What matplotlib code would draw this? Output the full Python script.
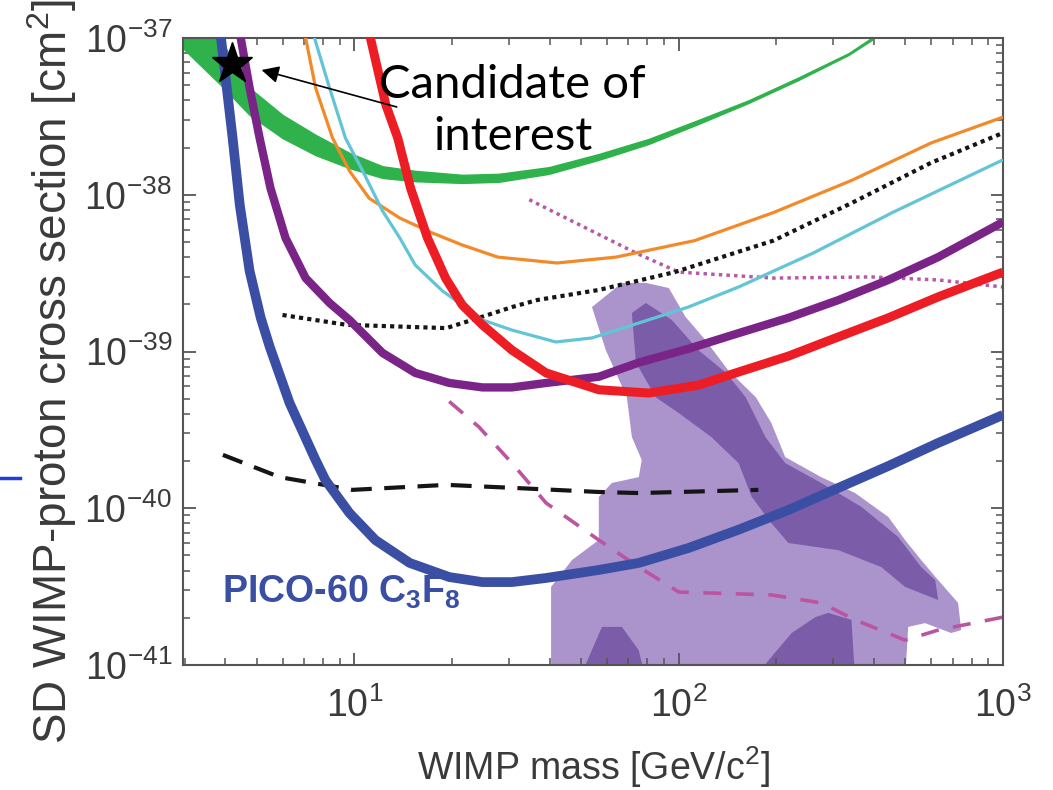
import matplotlib
matplotlib.use('Agg')
import matplotlib.pyplot as plt
from matplotlib import font_manager
from matplotlib.lines import Line2D
from matplotlib.ticker import NullFormatter

names = set(f.name for f in font_manager.fontManager.ttflist)
has_narrow = 'Liberation Sans Narrow' in names
narrow = 'Liberation Sans Narrow' if has_narrow else 'Liberation Sans'

plt.rcParams['font.family'] = ['Liberation Sans', 'DejaVu Sans']
plt.rcParams['mathtext.fontset'] = 'custom'
plt.rcParams['mathtext.rm'] = 'Liberation Sans'
plt.rcParams['mathtext.bf'] = 'Liberation Sans:bold'
plt.rcParams['mathtext.it'] = 'Liberation Sans:italic'

# ---- data (WIMP mass in GeV, cross section in cm^2) ----
green_m = [2.96, 3.84, 4.75, 6.0, 7.59, 9.65, 12.2, 15.4, 21.5, 27.9, 39.8, 56.7, 80.8, 115, 164, 234, 334, 398]
green_hi = [2.02e-37, 1.0e-37, 4.8e-38, 3.23e-38, 2.41e-38, 1.85e-38, 1.52e-38, 1.42e-38, 1.34e-38, 1.36e-38,
            1.50e-38, 1.82e-38, 2.27e-38, 3.0e-38, 4.0e-38, 5.6e-38, 8.0e-38, 1.02e-37]
green_lo = [8.6e-38, 5.1e-38, 3.23e-38, 2.30e-38, 1.79e-38, 1.48e-38, 1.28e-38, 1.22e-38, 1.19e-38, 1.21e-38,
            1.36e-38, 1.67e-38, 2.11e-38, 2.83e-38, 3.85e-38, 5.4e-38, 7.8e-38, 9.85e-38]

pico_m = [3.82, 4.21, 4.43, 4.75, 5.14, 5.48, 6.31, 7.59, 8.14, 9.65, 11.6, 14.8, 19.6, 24.8, 30.6, 39.0,
          56.7, 75.3, 107, 153, 218, 311, 443, 631, 1000]
pico_s = [1.30e-37, 2.30e-38, 8.6e-39, 3.26e-39, 1.64e-39, 1.07e-39, 4.69e-40, 2.03e-40, 1.51e-40, 9.33e-41,
          6.27e-41, 4.48e-41, 3.64e-41, 3.38e-41, 3.38e-41, 3.59e-41, 4.04e-41, 4.48e-41, 5.57e-41, 7.3e-41,
          9.75e-41, 1.35e-40, 1.86e-40, 2.61e-40, 3.94e-40]

purple_m = [4.37, 4.46, 4.75, 5.10, 5.51, 6.13, 7.07, 8.38, 9.65, 12.2, 15.4, 19.6, 24.8, 30.6, 39.0, 56.7,
            75.3, 107, 153, 218, 311, 443, 631, 1000]
purple_s = [1.30e-37, 1.0e-37, 4.8e-38, 2.30e-38, 1.10e-38, 5.3e-39, 2.94e-39, 2.04e-39, 1.59e-39, 9.8e-40,
            7.3e-40, 6.3e-40, 5.9e-40, 5.9e-40, 6.3e-40, 6.9e-40, 8.5e-40, 1.04e-39, 1.31e-39, 1.64e-39,
            2.13e-39, 2.86e-39, 4.0e-39, 6.7e-39]

red_m = [11.0, 11.2, 12.5, 13.6, 14.9, 16.8, 19.1, 21.5, 24.8, 30.6, 39.0, 56.7, 80.8, 115, 153, 218, 311,
         443, 631, 1000]
red_s = [1.30e-37, 1.0e-37, 3.74e-38, 2.30e-38, 1.10e-38, 5.3e-39, 2.94e-39, 1.98e-39, 1.48e-39, 1.02e-39,
         7.3e-40, 5.7e-40, 5.43e-40, 6.1e-40, 7.4e-40, 9.35e-40, 1.24e-39, 1.64e-39, 2.23e-39, 3.21e-39]

orange_m = [6.92, 7.07, 7.59, 8.56, 9.65, 11.1, 13.8, 17.4, 21.5, 27.7, 42.1, 64.0, 112, 196, 343, 600, 1000]
orange_s = [1.21e-37, 1.0e-37, 4.8e-38, 2.30e-38, 1.42e-38, 9.5e-39, 7.1e-39, 5.7e-39, 4.78e-39, 4.0e-39,
            3.67e-39, 4.0e-39, 5.1e-39, 7.7e-39, 1.24e-38, 2.14e-38, 3.13e-38]

cyan_m = [7.39, 7.53, 8.38, 9.38, 10.6, 12.2, 13.8, 15.4, 18.7, 21.5, 24.8, 30.6, 41.8, 54.0, 75.3, 107, 153,
          260, 456, 1000]
cyan_s = [1.21e-37, 1.0e-37, 4.8e-38, 2.30e-38, 1.42e-38, 7.9e-39, 5.3e-39, 3.56e-39, 2.43e-39, 1.98e-39,
          1.59e-39, 1.37e-39, 1.15e-39, 1.22e-39, 1.52e-39, 1.92e-39, 2.58e-39, 4.25e-39, 7.7e-39, 1.67e-38]

kdot_m = [6.0, 9.45, 19.2, 24.2, 30.6, 36.6, 56.7, 97.2, 196, 343, 600, 1000]
kdot_s = [1.71e-39, 1.48e-39, 1.41e-39, 1.64e-39, 1.92e-39, 2.13e-39, 2.47e-39, 3.21e-39, 5.1e-39, 8.9e-39,
          1.60e-38, 2.48e-38]

kdash_m = [3.93, 5.88, 9.86, 19.2, 30.6, 56.7, 75.3, 176]
kdash_s = [2.19e-40, 1.58e-40, 1.31e-40, 1.41e-40, 1.35e-40, 1.27e-40, 1.25e-40, 1.31e-40]

mdot_m = [34.6, 73.8, 100, 196, 393, 631, 1000]
mdot_s = [9.3e-39, 4.25e-39, 3.21e-39, 2.94e-39, 2.99e-39, 2.86e-39, 2.58e-39]

mdash_m = [19.6, 24.2, 30.6, 39.0, 56.7, 75.3, 100, 193, 275, 350, 499, 631, 1000]
mdash_s = [4.8e-40, 3.3e-40, 1.94e-40, 1.08e-40, 6.27e-41, 4.22e-41, 2.92e-41, 2.8e-41, 2.49e-41, 1.94e-41,
           1.44e-41, 1.67e-41, 2.02e-41]

light_m = [40.4, 40.4, 46.9, 56.7, 56.7, 62.2, 75.3, 76.9, 71.7, 69.2, 59.6, 54.0, 66.8, 79.2, 93.2, 105, 121,
           142, 173, 193, 213, 275, 350, 443, 499, 559, 631, 727, 743, 692, 575, 510, 499]
light_s = [8e-42, 3.15e-41, 4.68e-41, 6.27e-41, 1.18e-40, 1.45e-40, 1.58e-40, 2.03e-40, 2.85e-40, 5.1e-40,
           1.02e-39, 1.92e-39, 2.74e-39, 2.74e-39, 2.54e-39, 1.66e-39, 1.18e-39, 7.6e-40, 5.1e-40, 3.5e-40,
           2.12e-40, 1.58e-40, 1.25e-40, 8.8e-41, 6.27e-41, 4.68e-41, 3.48e-41, 2.49e-41, 1.67e-41, 1.60e-41,
           1.85e-41, 1.75e-41, 8e-42]

dark1_m = [71.7, 79.2, 95.2, 115, 140, 161, 185, 213, 275, 366, 475, 559, 618, 631, 499, 421, 311, 218, 193,
           168, 153, 126, 100, 85.0, 73.8]
dark1_s = [1.76e-39, 2.04e-39, 1.59e-39, 1.02e-39, 7.3e-40, 5.1e-40, 2.85e-40, 1.94e-40, 1.45e-40, 1.02e-40,
           6.56e-41, 4.22e-41, 3.48e-41, 2.6e-41, 3.15e-41, 4.22e-41, 5.4e-41, 6.0e-41, 8.05e-41, 1.18e-40,
           1.94e-40, 2.85e-40, 4.05e-40, 5.1e-40, 8.5e-40]
dark2_m = [49.2, 58.0, 66.8, 75.3, 79.2]
dark2_s = [8e-42, 1.75e-41, 1.75e-41, 1.24e-41, 8e-42]
dark3_m = [168, 223, 264, 289, 341, 350]
dark3_s = [8e-42, 1.60e-41, 2.02e-41, 2.15e-41, 1.94e-41, 8e-42]

star_m, star_s = 4.18, 6.8e-38

x_major = [10, 100, 1000]
y_major = [1e-41, 1e-40, 1e-39, 1e-38, 1e-37]

# ---- figure ----
fig = plt.figure(figsize=(10.53, 7.9), dpi=100)
ax = fig.add_axes([183/1053, 125/790, 820/1053, 627/790])
ax.set_xscale('log')
ax.set_yscale('log')

ax.fill(light_m, light_s, color='#ab93cb', lw=0, zorder=1)
ax.fill(dark1_m, dark1_s, color='#7a5ca9', lw=0, zorder=1.1)
ax.fill(dark2_m, dark2_s, color='#7a5ca9', lw=0, zorder=1.1)
ax.fill(dark3_m, dark3_s, color='#7a5ca9', lw=0, zorder=1.1)

ax.fill_between(green_m, green_lo, green_hi, color='#2fb24b', lw=1.0, edgecolor='#2fb24b', zorder=2)

ax.plot(mdot_m, mdot_s, color='#b45aa9', lw=2.5, ls=(0, (1, 1.2)), zorder=2.2)
ax.plot(mdash_m, mdash_s, color='#bb55a2', lw=2.6, ls=(0, (5, 4)), zorder=2.2)
ax.plot(kdot_m, kdot_s, color='#151515', lw=3, ls=(0, (1, 1)), zorder=2.3)
ax.plot(kdash_m, kdash_s, color='#151515', lw=3, ls=(0, (5, 3)), zorder=2.3)

style = dict(solid_joinstyle='round', solid_capstyle='butt')
ax.plot(orange_m, orange_s, color='#f28a2a', lw=2.3, zorder=3, **style)
ax.plot(cyan_m, cyan_s, color='#62c5d5', lw=2.3, zorder=3, **style)
ax.plot(purple_m, purple_s, color='#7a2487', lw=6, zorder=4, **style)
ax.plot(red_m, red_s, color='#ec1d25', lw=6.5, zorder=4.2, **style)
ax.plot(pico_m, pico_s, color='#3a4ea3', lw=7, zorder=5, **style)

ax.plot([star_m], [star_s], marker='*', color='k', ms=31, zorder=6, clip_on=False)
ax.annotate('', xy=(5.17, 6.25e-38), xytext=(13.5, 3.63e-38),
            arrowprops=dict(arrowstyle='-|>', color='k', lw=1.2, mutation_scale=26,
                            shrinkA=0, shrinkB=0), zorder=6)

ax.set_xlim(2.96, 1000)
ax.set_ylim(1e-41, 1e-37)

# only ticks inside the visible range
ax.set_xticks(x_major)
ax.set_yticks(y_major)
x_minor = [k * 10**e for e in range(0, 3) for k in range(2, 10) if 2.96 <= k * 10**e <= 1000]
y_minor = [k * 10.0**e for e in range(-41, -37) for k in range(2, 10)]
ax.set_xticks(x_minor, minor=True)
ax.set_yticks(y_minor, minor=True)
ax.xaxis.set_minor_formatter(NullFormatter())
ax.yaxis.set_minor_formatter(NullFormatter())

for s in ax.spines.values():
    s.set_color('#555555')
    s.set_linewidth(1.5)
ax.tick_params(which='both', direction='in', top=True, right=True, color='#555555',
               labelcolor='#3a3a3a', labelsize=27)
ax.tick_params(which='major', length=9, width=1.3)
ax.tick_params(which='minor', length=5, width=1.1)
ax.tick_params(axis='x', pad=16)
ax.tick_params(axis='y', pad=8)

pico_size = 33 if has_narrow else 27
ax.text(0.047, 0.099, r'PICO-60 C$_\mathbf{3}$F$_\mathbf{8}$', transform=ax.transAxes,
        color='#3a4ea3', fontsize=pico_size, fontweight='bold', family=[narrow, 'DejaVu Sans'],
        va='baseline', zorder=7)

fig.text(0.487, 0.860, 'Candidate of\ninterest', ha='center', va='center', fontsize=34,
         family=['Lato', 'DejaVu Sans'], linespacing=1.3, color='k', zorder=8)

xl_size = 34 if has_narrow else 27
ax.set_xlabel(r'WIMP mass [GeV/c$^2$]', fontsize=xl_size, family=[narrow, 'DejaVu Sans'],
              color='#3a3a3a')
ax.xaxis.set_label_coords(0.5, -0.127)
ax.set_ylabel(r'SD WIMP-proton cross section [cm$^2$]', fontsize=33, color='#3a3a3a')
ax.yaxis.set_label_coords(-0.127, 0.468)

fig.add_artist(Line2D([0, 0.019], [0.395, 0.395], color='#1f3de0', lw=2.5))

fig.savefig('out.png', dpi=100)
